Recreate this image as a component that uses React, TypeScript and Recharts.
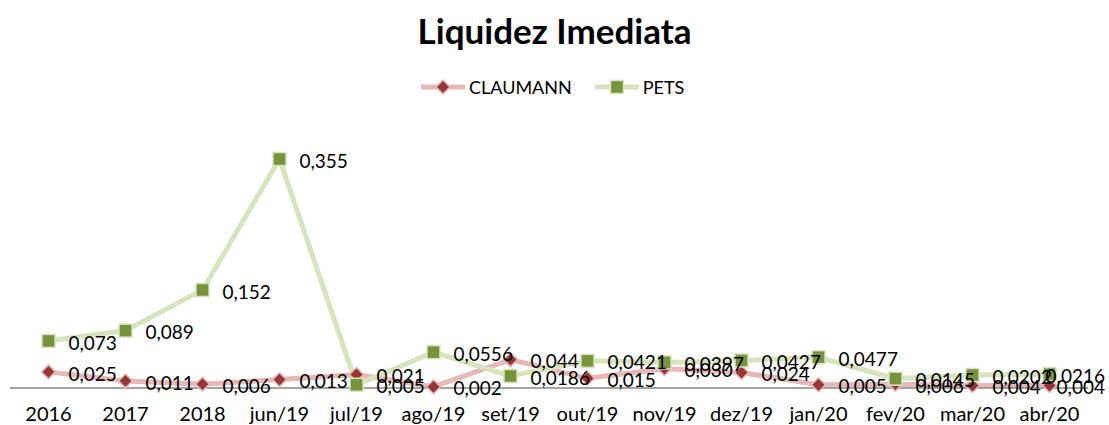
import React from 'react';
import { LineChart, Line, XAxis, YAxis, LabelList } from 'recharts';

const categories = ['2016', '2017', '2018', 'jun/19', 'jul/19', 'ago/19', 'set/19', 'out/19', 'nov/19', 'dez/19', 'jan/20', 'fev/20', 'mar/20', 'abr/20'];
const claumann = [0.025, 0.011, 0.006, 0.013, 0.021, 0.002, 0.044, 0.015, 0.030, 0.024, 0.005, 0.006, 0.004, 0.004];
const pets = [0.073, 0.089, 0.152, 0.355, 0.005, 0.0556, 0.0186, 0.0421, 0.0397, 0.0427, 0.0477, 0.0145, 0.0202, 0.0216];

const data = categories.map((name, i) => ({ name, claumann: claumann[i], pets: pets[i] }));

const FONT = 'Lato, "Open Sans", sans-serif';
const LABEL_RIGHT = 1105;
const LABEL_SIZE = 19;

const fmt = (v: number) => {
  const s = String(v);
  const dec = s.includes('.') ? s.split('.')[1].length : 0;
  return v.toFixed(Math.max(3, dec)).replace('.', ',');
};

const Diamond = (props: any) => {
  const { cx, cy, index } = props;
  if (cx == null || cy == null) return <g key={index} />;
  const r = 7;
  return (
    <path
      key={index}
      d={`M${cx},${cy - r} L${cx + r},${cy} L${cx},${cy + r} L${cx - r},${cy} Z`}
      fill="#953735"
      stroke="#E6B9B8"
      strokeWidth={1.5}
    />
  );
};

const Square = (props: any) => {
  const { cx, cy, index } = props;
  if (cx == null || cy == null) return <g key={index} />;
  const r = 6.5;
  return (
    <rect key={index} x={cx - r} y={cy - r} width={2 * r} height={2 * r} fill="#77933C" stroke="#D7E4BD" strokeWidth={1.5} />
  );
};

const renderLabel = (props: any) => {
  const { x, y, value, index } = props;
  const txt = fmt(value);
  const digits = txt.replace(',', '').length;
  const w = digits * LABEL_SIZE * 0.58 + LABEL_SIZE * 0.22;
  const start = x + 20;
  const overflow = start + w > LABEL_RIGHT;
  return (
    <text
      key={index}
      x={overflow ? LABEL_RIGHT : start}
      y={y + 2}
      dy="0.35em"
      textAnchor={overflow ? 'end' : 'start'}
      fontSize={LABEL_SIZE}
      fontFamily={FONT}
      fill="#000"
    >
      {txt}
    </text>
  );
};

export default function App() {
  return (
    <div style={{ position: 'absolute', left: 0, top: 0, width: 1109, height: 425, background: '#fff', fontFamily: FONT, overflow: 'hidden' }}>
      <div style={{ position: 'absolute', left: 0, top: 8, width: 1109, textAlign: 'center', fontSize: 35, fontWeight: 700, color: '#000', lineHeight: '44px' }}>
        Liquidez Imediata
      </div>
      <div style={{ position: 'absolute', left: 420, top: 76, height: 22, display: 'flex', alignItems: 'center', fontSize: 18, color: '#000' }}>
        <svg width={46} height={22}>
          <line x1={1} y1={11} x2={45} y2={11} stroke="#E6B9B8" strokeWidth={5} />
          <path d="M23,4 L30,11 L23,18 L16,11 Z" fill="#953735" stroke="#E6B9B8" strokeWidth={1.5} />
        </svg>
        <span style={{ marginLeft: 3 }}>CLAUMANN</span>
        <svg width={46} height={22} style={{ marginLeft: 22 }}>
          <line x1={1} y1={11} x2={45} y2={11} stroke="#D7E4BD" strokeWidth={5} />
          <rect x={16.5} y={4.5} width={13} height={13} fill="#77933C" stroke="#D7E4BD" strokeWidth={1.5} />
        </svg>
        <span style={{ marginLeft: 3 }}>PETS</span>
      </div>
      <LineChart width={1109} height={425} data={data} margin={{ top: 130, right: 21, left: 10, bottom: 0 }}>
        <XAxis
          dataKey="name"
          interval={0}
          tickLine={false}
          padding={{ left: 38.5, right: 38.5 }}
          axisLine={{ stroke: '#868686', strokeWidth: 1.5 }}
          tick={{ fill: '#000', fontSize: 20, fontFamily: FONT }}
          tickMargin={13}
          height={37}
        />
        <YAxis hide domain={[0, 0.4]} />
        <Line
          type="linear"
          dataKey="claumann"
          stroke="#E6B9B8"
          strokeWidth={5}
          dot={Diamond}
          activeDot={false}
          isAnimationActive={false}
        >
          <LabelList dataKey="claumann" content={renderLabel} />
        </Line>
        <Line
          type="linear"
          dataKey="pets"
          stroke="#D7E4BD"
          strokeWidth={5}
          dot={Square}
          activeDot={false}
          isAnimationActive={false}
        >
          <LabelList dataKey="pets" content={renderLabel} />
        </Line>
      </LineChart>
    </div>
  );
}
